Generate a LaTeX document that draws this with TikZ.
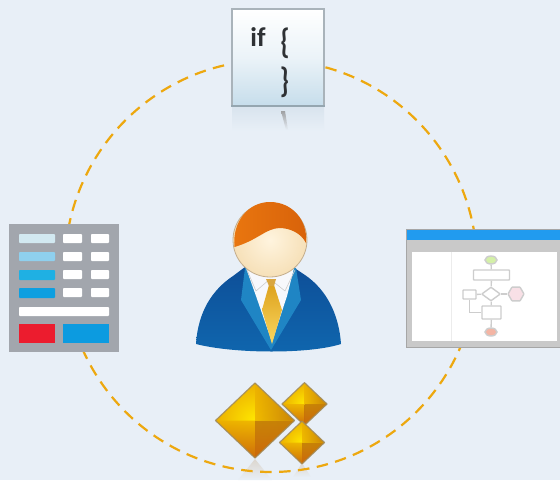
\documentclass[tikz,border=0pt]{standalone}
\usepackage{fontspec}
\setmainfont{Carlito}
\usetikzlibrary{shapes.geometric}
\definecolor{bgc}{HTML}{E8EFF7}
\definecolor{dashc}{HTML}{EDA80F}
\definecolor{formg}{HTML}{A2A6AD}
\definecolor{wing}{HTML}{C9C9C9}
\definecolor{flowl}{HTML}{CDCDCD}
\definecolor{cardb}{HTML}{A9B3BA}
\definecolor{cardd}{HTML}{95A6B0}
\definecolor{cardlow}{HTML}{C6DDEB}
\definecolor{cardref}{HTML}{D9E4EE}
\definecolor{inkc}{HTML}{2E3134}
\definecolor{rowa}{HTML}{D2E9F1}
\definecolor{rowb}{HTML}{8FD0EE}
\definecolor{rowc}{HTML}{1FB0E3}
\definecolor{rowd}{HTML}{0D9FE0}
\definecolor{redc}{HTML}{EC1C2E}
\definecolor{bluec}{HTML}{0C9BE0}
\definecolor{titlec}{HTML}{219BEF}
\definecolor{flowgreen}{HTML}{D4F0A8}
\definecolor{flowpink}{HTML}{F8E0E6}
\definecolor{flowred}{HTML}{F4B5A4}
\definecolor{suita}{HTML}{0E4F98}
\definecolor{suitb}{HTML}{0F66AE}
\definecolor{lapel}{HTML}{1F85C4}
\definecolor{shirtc}{HTML}{F7F8FC}
\definecolor{tiea}{HTML}{DDA21E}
\definecolor{tieb}{HTML}{FBD860}
\definecolor{knotc}{HTML}{D9A640}
\definecolor{skina}{HTML}{FFF4DE}
\definecolor{skinb}{HTML}{F6E0B8}
\definecolor{skinl}{HTML}{C4AE8E}
\definecolor{haira}{HTML}{E9760F}
\definecolor{hairb}{HTML}{D8620A}
\definecolor{gemhi}{HTML}{FFE800}
\definecolor{gemmid}{HTML}{ECB000}
\definecolor{gemdark}{HTML}{C27A08}
\definecolor{gemlow}{HTML}{D98A10}
\definecolor{gemtip}{HTML}{C8600C}
\definecolor{gemedge}{HTML}{A08A5C}
\definecolor{reflc}{HTML}{DCD6CE}
\tikzset{
  x=1pt,y=-1pt,
  orbit/.style={draw=dashc,line width=2.2pt,dash pattern=on 11.5pt off 7.5pt},
  cell/.style={fill=white,draw=none,rounded corners=0.8pt},
  flowbox/.style={draw=flowl,line width=1.4pt,fill=white,inner sep=0pt,rounded corners=0.6pt},
  flowline/.style={draw=flowl,line width=1.4pt},
}
\newcommand{\gemshape}[3]{%
  \begin{scope}[shift={(#1,#2)},scale=#3]
    % upper-left facets: yellow glow
    \shade[inner color=gemhi,outer color=gemmid,draw=none]
      (-1,0)--(0,-0.95)--(1,0)--(0,0.95)--cycle;
    % lower-left facet
    \shade[top color=gemmid,bottom color=gemtip,opacity=.85,draw=none] (-1,0)--(0,0)--(0,0.95)--cycle;
    % lower-right facet
    \shade[top color=gemdark,bottom color=gemtip,opacity=.9,draw=none] (1,0)--(0,0)--(0,0.95)--cycle;
    % upper-right facet
    \shade[left color=gemmid,right color=gemdark,opacity=.8,draw=none] (0,-0.95)--(1,0)--(0,0)--cycle;
    \draw[draw=gemedge,line width=1.2pt,opacity=.85,line join=round]
      (-1,0)--(0,-0.95)--(1,0)--(0,0.95)--cycle;
  \end{scope}
}
\begin{document}
\begin{tikzpicture}
\useasboundingbox (0,0) rectangle (560,480);
\fill[bgc] (0,0) rectangle (560,480);

% reflections below the gems
\shade[top color=reflc,bottom color=bgc,draw=none] (255,459)--(238,480)--(272,480)--cycle;
\shade[top color=reflc,bottom color=bgc,draw=none] (302,463)--(293,477)--(311,477)--cycle;

% dashed orbit
\coordinate (hub) at (271,266);
\draw[orbit] (hub) circle[radius=206];

% ---- code card
\shade[top color=cardref,bottom color=bgc,draw=none] (232,107) rectangle (324,131);
\shade[top color=white,bottom color=cardlow,middle color=white!65!cardlow,draw=none] (232,9) rectangle (324,106);
\draw[draw=cardb,line width=1.5pt] (232,106)--(232,9)--(324,9)--(324,106);
\draw[draw=cardd,line width=1.8pt] (231.3,106)--(324.7,106);
\node[inner sep=0pt,anchor=center,text=inkc,font=\bfseries\fontsize{27}{27}\selectfont] (iftext) at (258,37) {if};
\node[inner sep=0pt,anchor=center,text=inkc,font=\fontsize{27}{27}\selectfont,yscale=1.3] (openb) at (285,43) {\textbf{\{}};
\node[inner sep=0pt,anchor=center,text=inkc,font=\fontsize{27}{27}\selectfont,yscale=1.3] (closeb) at (284.5,82) {\textbf{\}}};
\shade[top color=gray!70!bgc,bottom color=bgc,draw=none] (281,111)--(285,111)--(288,130)--(286,130)--cycle;

% ---- form icon
\fill[formg] (9,224) rectangle (119,352);
\fill[cell,fill=rowa] (19,234) rectangle (55,243);
\fill[cell,fill=rowb] (19,252) rectangle (55,261);
\fill[cell,fill=rowc] (19,270) rectangle (55,280);
\fill[cell,fill=rowd] (19,288) rectangle (55,298);
\foreach \yy in {234,252,270,288} {
  \fill[cell] (63,\yy) rectangle (82,\yy+9);
  \fill[cell] (91,\yy) rectangle (109,\yy+9);
}
\fill[cell] (19,307) rectangle (109,316);
\fill[redc] (19,324) rectangle (55,343);
\fill[bluec] (63,324) rectangle (109,343);

% ---- flowchart window
\fill[wing] (406,229) rectangle (560,347);
\draw[gray!70,line width=.8pt] (560,347)--(406,347)--(406,229)--(560,229);
\fill[titlec] (407,230) rectangle (560,240);
\fill[white] (412,252) rectangle (557,341);
\draw[gray!15,line width=1pt] (451,252)--(451,341);
\node[flowbox,ellipse,fill=flowgreen,minimum width=12pt,minimum height=8pt] (fstart) at (491,260) {};
\node[flowbox,rectangle,minimum width=36pt,minimum height=10pt] (fproc) at (491.5,275) {};
\node[flowbox,diamond,minimum width=19pt,minimum height=14pt] (fdec) at (491,294) {};
\node[flowbox,rectangle,minimum width=13pt,minimum height=9pt] (fleft) at (469.5,294.5) {};
\node[flowbox,regular polygon,regular polygon sides=6,fill=flowpink,minimum width=16pt] (fpink) at (516,294) {};
\node[flowbox,rectangle,minimum width=19pt,minimum height=13pt] (fbox) at (491.5,312.5) {};
\node[flowbox,ellipse,fill=flowred,minimum width=12pt,minimum height=8pt] (fend) at (491,332) {};
\draw[flowline] (fstart)--(fproc);
\draw[flowline] (fproc)--(fdec);
\draw[flowline] (fdec)--(fbox);
\draw[flowline] (fbox)--(fend);
\draw[flowline] (fdec)--(fleft);
\draw[flowline] (fdec)--(fpink);
\draw[flowline] (fleft.south)|-(fbox.west);

% ---- person
\shade[top color=suita,bottom color=suitb,draw=none]
  (196,344) .. controls (198,312) and (212,290) .. (233,276)
  -- (245,267) -- (293,267) -- (305,275)
  .. controls (327,290) and (339,315) .. (341,344)
  .. controls (310,354) and (235,354) .. (196,344) -- cycle;
% lapels
\fill[lapel] (245,268)--(241,300)--(271,350)--(301,300)--(296,268)--cycle;
% shirt
\fill[shirtc] (246,268)--(294,268)--(287,296)--(272,342)--(256,296)--cycle;
\draw[gray!40,line width=.6pt] (247,270)--(256,291)--(270,279)--(285,291)--(295,270);
% tie
\shade[top color=tiea,bottom color=tieb,draw=none]
  (269,285)--(262,310)--(272,344)--(282,310)--(274,285)--cycle;
\fill[knotc] (266,279)--(276,279)--(274,286)--(269,286)--cycle;
% head
\shade[inner color=skina,outer color=skinb,draw=skinl,line width=.8pt] (270,240) circle[radius=37];
% hair
\shade[left color=haira,right color=hairb,draw=none]
  (234.5,247) .. controls (232,222) and (248,202) .. (270,202)
  .. controls (292,202) and (308,220) .. (306,243)
  .. controls (301,233) and (290,228) .. (279,228)
  .. controls (265,229) and (258,240) .. (234.5,247) -- cycle;

% ---- gems
\gemshape{255}{420.5}{39.5}
\gemshape{304.5}{404}{22.5}
\gemshape{302}{442.5}{22.5}
\end{tikzpicture}
\end{document}
